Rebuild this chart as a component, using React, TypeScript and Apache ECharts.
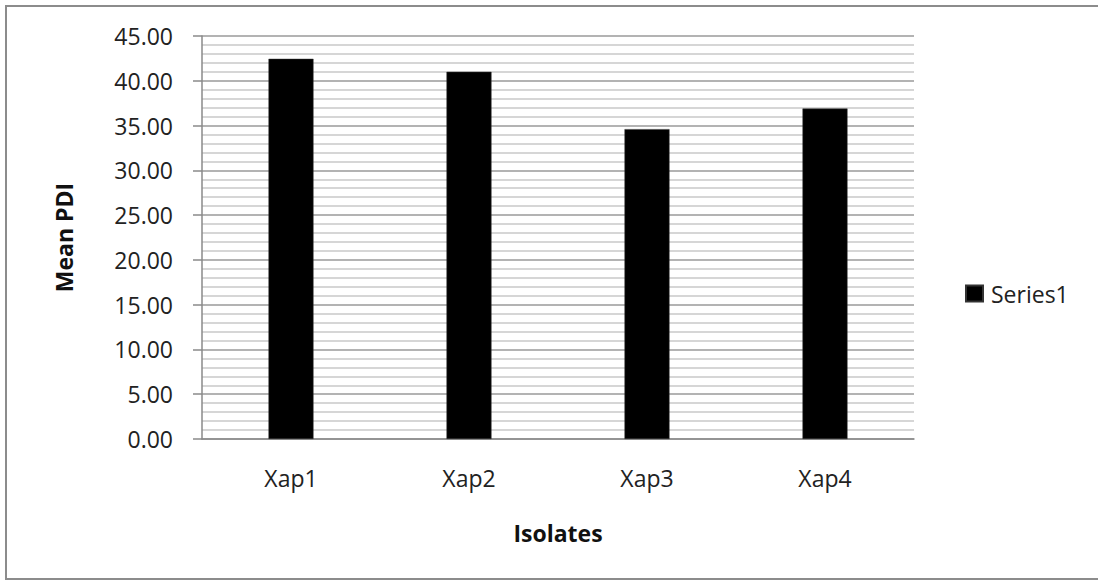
import React, { useEffect, useRef } from "react";
import * as echarts from "echarts";

const categories = ["Xap1", "Xap2", "Xap3", "Xap4"];
const seriesName = "Series1";
const seriesValues = [42.45, 41.0, 34.6, 36.9];
const yMin = 0;
const yMax = 45;
const yInterval = 5;
const xTitle = "Isolates";
const yTitle = "Mean PDI";

export default function App() {
  const ref = useRef<HTMLDivElement>(null);
  useEffect(() => {
    if (!ref.current) return;
    const chart = echarts.init(ref.current, undefined, { renderer: "svg" });
    const font = "'Open Sans', 'Liberation Sans', sans-serif";
    chart.setOption({
      animation: false,
      backgroundColor: "#ffffff",
      textStyle: { fontFamily: font },
      graphic: [
        {
          type: "rect",
          shape: { x: 6, y: 6, width: 1300, height: 573 },
          style: { fill: "none", stroke: "#8c8c8c", lineWidth: 2 },
          silent: true,
        },
      ],
      legend: {
        data: [seriesName],
        orient: "vertical",
        left: 960,
        top: 277,
        itemWidth: 17,
        itemHeight: 16,
        itemGap: 10,
        icon: "rect",
        textStyle: { fontFamily: font, fontSize: 23, color: "#222", padding: [0, 0, 0, 3] },
      },
      grid: { left: 202, right: 184, top: 36, bottom: 142, containLabel: false },
      xAxis: {
        type: "category",
        data: categories,
        axisLine: { show: true, lineStyle: { color: "#8a8a8a", width: 1.5 } },
        axisTick: { show: false },
        axisLabel: { margin: 27, fontSize: 23, color: "#222", fontFamily: font },
        name: xTitle,
        nameLocation: "middle",
        nameGap: 82,
        nameTextStyle: { fontSize: 23, fontWeight: "bold", color: "#111", fontFamily: font },
      },
      yAxis: {
        type: "value",
        min: yMin,
        max: yMax,
        interval: yInterval,
        axisLine: { show: true, lineStyle: { color: "#8a8a8a", width: 1.5 } },
        axisTick: { show: true, inside: false, length: 9, lineStyle: { color: "#8a8a8a", width: 1.5 } },
        axisLabel: {
          margin: 29,
          fontSize: 23,
          color: "#222",
          fontFamily: font,
          formatter: (v: number) => v.toFixed(2),
        },
        splitLine: { show: true, lineStyle: { color: "#9a9a9a", width: 1.5 } },
        minorTick: { show: false, splitNumber: 5 },
        minorSplitLine: { show: true, lineStyle: { color: "#c8c8c8", width: 1.5 } },
        name: yTitle,
        nameLocation: "middle",
        nameGap: 127,
        nameRotate: 90,
        nameTextStyle: { fontSize: 23, fontWeight: "bold", color: "#111", fontFamily: font },
      },
      series: [
        {
          name: seriesName,
          type: "bar",
          data: seriesValues,
          barWidth: 45,
          itemStyle: { color: "#000000", borderColor: "#333", borderWidth: 0.5 },
        },
      ],
    });
    return () => chart.dispose();
  }, []);
  return (
    <div
      ref={ref}
      style={{ position: "fixed", left: 0, top: 0, width: 1098, height: 581 }}
    />
  );
}
